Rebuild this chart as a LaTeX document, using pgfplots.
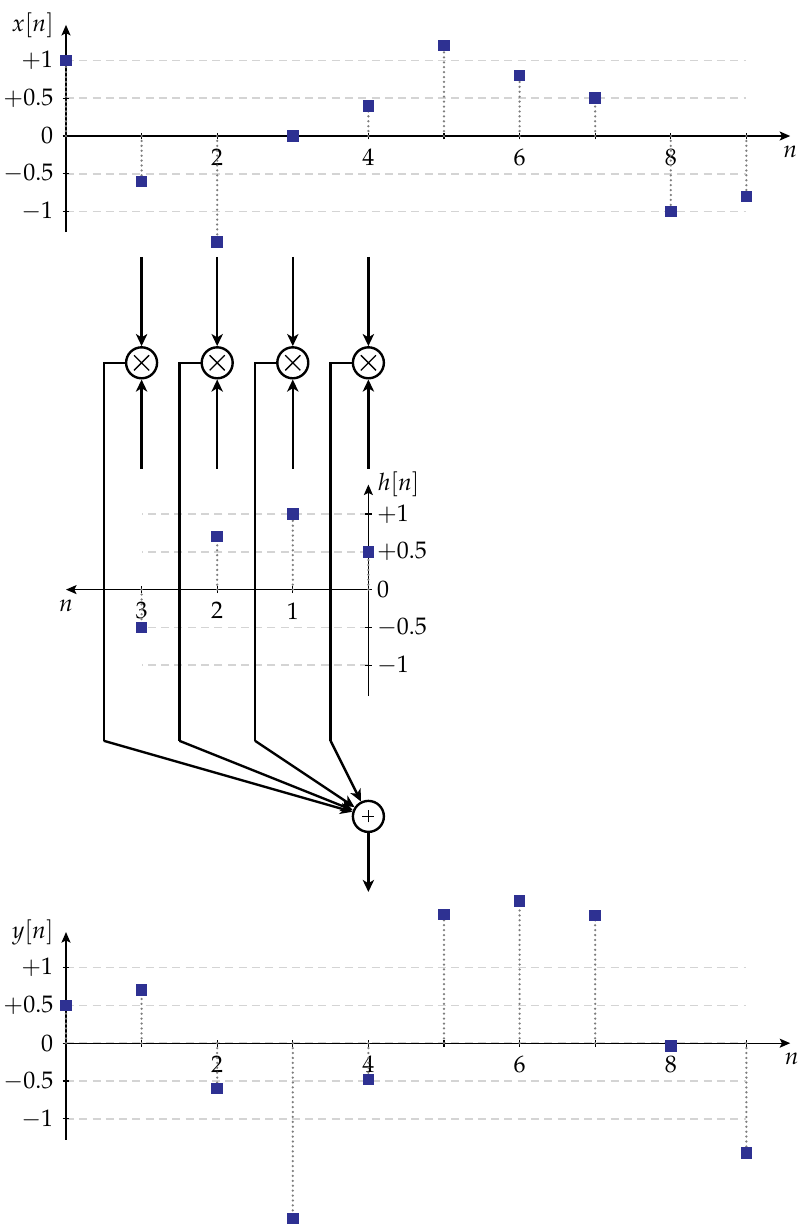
\documentclass[border=0pt]{standalone}
\usepackage{mathpazo}
\usepackage{pgfplots}
\pgfplotsset{compat=1.18}
\usetikzlibrary{arrows.meta}

\definecolor{markblue}{RGB}{46,49,146}
\definecolor{stemgray}{RGB}{125,125,125}
\definecolor{gridgray}{RGB}{212,212,212}

\pgfplotsset{
  seqaxis/.style={
    x=1cm, y=1cm,
    axis lines=middle,
    clip=false,
    axis line style={line width=0.5pt, -{Stealth[length=1.4mm,width=1.2mm,inset=0.3mm]}},
    tick style={black, line width=0.4pt},
    major tick length=0.09cm,
    tick align=center,
    ytick={-1,-0.5,0,0.5,1},
    yticklabels={$-1$,$-0.5$,$0$,$+0.5$,$+1$},
    hide obscured y ticks=false,
    ymajorgrids,
    grid style={gridgray, line width=0.6pt, dash pattern=on 3pt off 2pt},
    ticklabel style={font=\small},
    label style={font=\small},
  },
  stem/.style={ycomb, stemgray, line width=0.95pt, line cap=round,
    dash pattern=on 0pt off 1.85pt,
    mark=square*, mark size=1.7pt,
    mark options={solid, line cap=butt, draw=markblue, fill=markblue}},
}

\begin{document}
\begin{tikzpicture}[
  sig/.style={line width=0.9pt},
  arr/.style={line width=0.9pt, -{Stealth[length=1.6mm,width=1.5mm,inset=0.45mm]}},
  op/.style={circle, draw, line width=0.9pt, minimum size=0.41cm, inner sep=0pt},
]
\path[use as bounding box] (-0.873,1.799) rectangle (9.722,-14.405);

% input sequence x[n], origin at (0,0)
\begin{axis}[seqaxis, at={(0cm,0cm)}, anchor=origin,
  xmin=0, xmax=9, ymin=-1.27, ymax=1.47,
  x axis line style={shorten >=-0.58cm},
  xtick={1,...,9}, xticklabels={{},$2$,{},$4$,{},$6$,{},$8$,{}},
  xlabel={$n$}, ylabel={$x[n]$},
  xlabel style={at={(axis cs:9.58,-0.21)}, anchor=center},
  ylabel style={at={(axis cs:-0.44,1.47)}, anchor=center, rotate=0},
]
\addplot[stem] coordinates {
  (0,1.0) (1,-0.6) (2,-1.4) (3,0.0) (4,0.4)
  (5,1.2) (6,0.8) (7,0.5) (8,-1.0) (9,-0.8)};
\end{axis}

% impulse response h[n], drawn time-reversed, origin at (4,-6)
\begin{axis}[seqaxis, at={(4cm,-6cm)}, anchor=origin,
  x dir=reverse,
  xmin=0, xmax=3, ymin=-1.41, ymax=1.39,
  x axis line style={shorten >=-1cm},
  xtick={1,2,3}, xticklabels={$1$,$2$,$3$},
  yticklabel style={anchor=west, xshift=1pt},
  xlabel={$n$}, ylabel={$h[n]$},
  xlabel style={at={(axis cs:4.0,-0.21)}, anchor=center},
  ylabel style={at={(axis cs:-0.40,1.39)}, anchor=center, rotate=0},
]
\addplot[stem] coordinates {(0,0.5) (1,1.0) (2,0.7) (3,-0.5)};
\end{axis}

% output sequence y[n], origin at (0,-12)
\begin{axis}[seqaxis, at={(0cm,-12cm)}, anchor=origin,
  xmin=0, xmax=9, ymin=-1.28, ymax=1.47,
  x axis line style={shorten >=-0.58cm},
  xtick={1,...,9}, xticklabels={{},$2$,{},$4$,{},$6$,{},$8$,{}},
  xlabel={$n$}, ylabel={$y[n]$},
  xlabel style={at={(axis cs:9.6,-0.21)}, anchor=center},
  ylabel style={at={(axis cs:-0.44,1.47)}, anchor=center, rotate=0},
]
\addplot[stem] coordinates {
  (0,0.5) (1,0.7) (2,-0.6) (3,-2.32) (4,-0.48)
  (5,1.7) (6,1.88) (7,1.69) (8,-0.04) (9,-1.45)};
\end{axis}

% multipliers
\foreach \k in {1,2,3,4} {
  \node[op] (m\k) at (\k,-3) {};
  \draw[line width=0.5pt] (\k-0.1,-3.1) -- (\k+0.1,-2.9)
                          (\k-0.1,-2.9) -- (\k+0.1,-3.1);
  \draw[arr] (\k,-1.6) -- (m\k.north);
  \draw[arr] (\k,-4.4) -- (m\k.south);
}

% adder
\node[op] (add) at (4,-9) {};
\draw[line width=0.5pt] (3.92,-9) -- (4.08,-9) (4,-9.08) -- (4,-8.92);
\foreach \k in {1,2,3,4} {
  \draw[sig] (m\k.west) -- (\k-0.5,-3) -- (\k-0.5,-8);
  \draw[arr] (\k-0.5,-8) -- (add);
}
\draw[arr] (add.south) -- (4,-10);
\end{tikzpicture}
\end{document}
